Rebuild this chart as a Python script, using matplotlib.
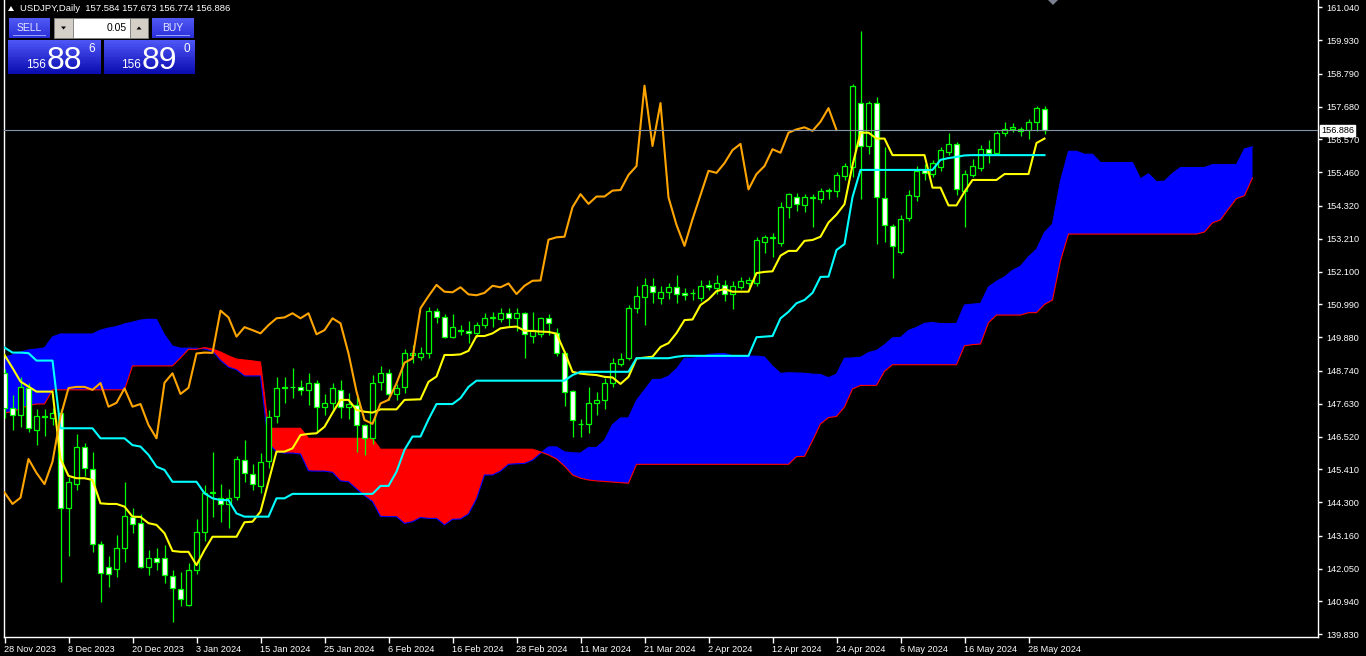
import matplotlib
matplotlib.use("Agg")
import matplotlib.pyplot as plt
from matplotlib.patches import Rectangle, Polygon
import numpy as np

plt.rcParams['font.family'] = ['Liberation Sans', 'DejaVu Sans']

W, H = 1366, 656

# ---------------- data ----------------
open_ = [148.67,147.49,147.25,148.15,146.75,147.21,147.14,147.32,144.11,144.91,
         146.17,145.43,142.90,142.12,142.04,142.75,143.81,143.60,142.11,142.41,
         142.41,141.81,141.36,140.82,142.00,143.29,144.60,144.44,144.24,144.49,
         145.73,145.25,144.85,145.70,147.20,148.15,148.18,148.20,148.10,148.33,
         147.51,147.64,148.10,147.51,147.60,146.91,146.46,148.38,148.68,147.96,
         148.19,149.28,149.20,149.33,150.78,150.57,149.90,150.10,150.09,150.01,
         150.29,150.52,150.50,150.69,150.52,150.69,149.92,149.99,150.52,150.03,
         149.33,148.06,146.93,146.93,147.64,147.76,148.32,148.97,149.17,150.86,
         151.25,151.61,151.22,151.40,151.57,151.37,151.37,151.20,151.64,151.54,
         151.64,151.34,151.59,151.73,151.72,153.11,153.25,153.06,154.28,154.64,
         154.35,154.58,154.56,154.84,154.83,155.35,155.63,157.81,156.35,157.80,
         154.58,153.64,152.77,153.90,154.67,155.53,155.40,155.65,156.13,156.42,
         154.84,155.37,155.60,156.24,156.12,156.78,156.91,156.91,156.89,157.17,
         157.59]
high = [148.80,147.93,148.55,148.32,147.45,147.44,147.48,147.45,145.16,146.60,
        146.30,146.01,143.00,142.48,143.19,144.98,144.10,143.90,142.68,142.74,
        142.85,142.00,141.94,142.25,143.73,144.88,146.00,144.91,144.75,145.86,
        146.40,145.59,145.98,147.42,148.52,148.52,148.84,148.43,148.68,148.43,
        147.96,148.34,148.43,147.98,147.87,146.95,148.60,148.91,148.80,148.30,
        149.47,149.62,149.55,150.89,150.88,150.65,150.66,150.28,150.44,150.40,
        150.70,150.74,150.86,150.86,150.86,150.75,150.74,150.58,150.65,150.20,
        149.40,148.10,147.13,148.20,148.03,148.50,149.17,149.34,150.97,151.60,
        151.88,151.88,151.60,151.70,151.99,151.53,151.50,151.82,151.82,151.99,
        151.82,151.77,151.93,151.93,153.27,153.35,153.40,154.46,154.77,154.75,
        154.72,154.72,154.93,154.92,155.48,155.78,158.45,160.24,157.88,158.00,
        156.30,153.70,154.00,154.85,155.68,155.75,155.87,156.32,156.80,156.50,
        155.55,155.90,156.38,156.56,156.86,157.17,157.12,157.00,157.25,157.71,
        157.70]
low = [147.15,146.74,146.85,146.68,146.23,146.54,146.91,141.61,142.49,144.70,
       145.20,142.62,140.93,141.43,141.78,142.27,143.27,142.07,141.84,142.00,
       141.57,140.26,140.79,140.80,141.87,143.00,143.80,143.64,143.43,144.37,
       144.99,144.71,144.61,145.46,146.98,147.65,147.82,147.93,147.58,146.64,
       147.25,147.36,147.15,147.11,146.01,145.90,146.27,148.10,147.76,147.76,
       147.99,149.01,149.11,149.18,150.36,149.84,149.85,149.95,149.68,149.90,
       150.20,150.24,150.40,150.24,150.10,149.19,149.70,149.90,149.95,149.25,
       147.56,146.49,146.50,146.63,147.25,147.45,148.20,148.90,149.10,150.69,
       150.29,151.03,151.00,151.16,151.03,151.14,151.14,151.10,151.47,151.34,
       151.12,150.82,151.50,151.57,151.62,152.74,152.58,152.98,153.90,154.16,
       154.10,153.60,154.41,154.55,154.63,155.20,155.31,154.55,156.08,153.03,
       153.10,151.87,152.70,153.80,154.48,155.20,155.30,155.50,156.05,154.70,
       153.60,155.30,155.50,155.79,156.05,156.70,156.82,156.70,156.60,156.87,
       156.76]
close = [147.49,147.25,148.19,146.80,147.21,147.17,147.31,144.11,144.98,146.17,
         145.46,142.90,141.90,141.87,142.75,143.83,143.56,142.11,142.41,142.28,
         141.84,141.40,141.02,142.00,143.29,144.61,144.63,144.24,144.45,145.76,
         145.29,144.91,145.67,147.19,148.16,148.20,148.20,148.10,148.33,147.53,
         147.66,148.15,147.53,147.62,146.91,146.46,148.34,148.66,147.96,148.17,
         149.33,149.36,149.35,150.78,150.55,149.90,150.22,150.12,150.01,150.29,
         150.52,150.55,150.69,150.52,150.69,149.98,150.12,150.52,150.35,149.33,
         148.04,147.08,146.95,147.64,147.76,148.32,149.02,149.16,150.86,151.27,
         151.65,151.42,151.40,151.57,151.33,151.30,151.38,151.62,151.57,151.70,
         151.34,151.62,151.79,151.80,153.18,153.26,153.28,154.28,154.72,154.39,
         154.64,154.64,154.84,154.86,155.37,155.67,158.39,156.35,157.80,154.61,
         153.68,152.97,153.87,154.69,155.51,155.44,155.77,156.21,156.42,154.88,
         155.40,155.67,156.24,156.12,156.80,156.91,156.98,156.86,157.17,157.63,
         156.89]
tenkan = [149.28,148.84,148.38,148.21,148.04,148.04,148.04,145.77,145.19,145.11,
          145.11,145.05,144.26,144.24,144.24,144.15,143.81,143.80,143.59,143.53,
          143.25,142.65,142.62,142.62,142.17,142.68,143.13,143.13,143.13,143.13,
          143.62,143.64,143.98,145.00,146.01,146.01,146.12,146.57,146.61,146.63,
          146.85,147.32,147.76,147.76,147.42,147.36,147.33,147.44,147.44,147.44,
          147.76,147.77,147.78,148.37,148.55,149.28,149.28,149.30,149.42,149.92,
          149.92,150.01,150.18,150.22,150.24,150.10,150.09,150.07,150.06,150.00,
          149.39,148.71,148.65,148.62,148.60,148.54,148.52,148.30,148.54,149.16,
          149.19,149.22,149.55,149.68,150.02,150.46,150.48,150.97,151.16,151.44,
          151.51,151.42,151.42,151.42,152.05,152.09,152.11,152.64,152.80,152.80,
          153.14,153.17,153.28,153.76,154.03,154.38,155.70,156.80,156.80,156.60,
          156.60,156.04,156.04,156.04,156.04,156.04,154.94,154.94,154.34,154.34,
          154.80,155.20,155.20,155.20,155.20,155.40,155.40,155.40,155.40,156.45,
          156.60]
kijun = [149.53,149.36,149.36,149.34,149.09,149.09,149.09,146.80,146.80,146.80,
         146.80,146.80,146.46,146.46,146.46,146.46,146.23,146.18,145.90,145.50,
         145.39,144.99,144.99,144.99,144.99,144.60,144.43,144.37,144.37,143.92,
         143.81,143.81,143.81,143.81,144.43,144.43,144.58,144.58,144.58,144.58,
         144.58,144.58,144.58,144.58,144.58,144.58,144.58,144.85,144.85,145.33,
         146.07,146.52,146.52,147.10,147.62,147.62,147.62,147.82,148.20,148.41,
         148.41,148.41,148.41,148.41,148.41,148.41,148.41,148.41,148.41,148.41,
         148.41,148.60,148.71,148.71,148.71,148.71,148.71,148.71,148.71,149.17,
         149.17,149.17,149.17,149.17,149.22,149.25,149.25,149.25,149.25,149.25,
         149.25,149.25,149.25,149.25,149.88,149.90,149.92,150.52,150.74,151.03,
         151.14,151.38,151.92,151.93,152.83,153.03,154.62,155.54,155.54,155.54,
         155.54,155.54,155.54,155.54,155.54,155.54,155.54,155.88,155.94,155.98,
         156.03,156.04,156.04,156.04,156.04,156.04,156.04,156.04,156.04,156.04,
         156.04]
senkou_a = [149.21,149.28,149.38,149.45,149.48,149.52,149.89,149.99,149.99,149.99,
            149.99,149.99,150.12,150.19,150.24,150.33,150.39,150.46,150.49,150.48,
            149.96,149.58,149.51,149.51,149.51,149.48,149.41,149.10,148.87,148.78,
            148.57,148.57,148.57,146.29,146.00,145.96,145.96,145.93,145.36,145.35,
            145.35,145.31,145.02,144.99,144.75,144.52,144.32,143.82,143.81,143.81,
            143.58,143.64,143.78,143.75,143.75,143.53,143.72,143.73,143.90,144.41,
            145.22,145.22,145.35,145.58,145.60,145.61,145.72,145.95,146.17,146.17,
            146.00,145.97,145.96,146.15,146.15,146.39,146.92,147.15,147.15,147.74,
            148.09,148.45,148.45,148.56,148.81,149.17,149.17,149.21,149.30,149.32,
            149.33,149.26,149.25,149.24,149.24,149.21,148.90,148.66,148.68,148.67,
            148.66,148.63,148.62,148.51,148.63,149.17,149.18,149.20,149.36,149.43,
            149.62,149.86,149.87,150.11,150.21,150.35,150.38,150.34,150.34,150.34,
            150.97,151.00,151.02,151.58,151.77,151.92,152.14,152.28,152.60,152.85,
            153.42,153.71,155.16,156.17,156.17,156.07,156.07,155.79,155.79,155.79,
            155.79,155.79,155.24,155.41,155.14,155.16,155.42,155.62,155.62,155.62,
            155.62,155.72,155.72,155.72,155.72,156.25,156.32]
senkou_b = [147.32,147.36,147.47,147.57,147.62,147.62,148.10,148.10,148.10,148.10,
            148.10,148.10,148.10,148.10,148.10,148.10,148.91,148.91,148.91,148.91,
            148.91,148.91,149.18,149.47,149.47,149.53,149.48,149.38,149.25,149.14,
            149.11,149.08,149.04,146.80,146.80,146.80,146.80,146.80,146.46,146.46,
            146.46,146.46,146.46,146.46,146.46,146.46,146.46,146.09,146.09,146.09,
            146.09,146.09,146.09,146.09,146.09,146.09,146.09,146.09,146.09,146.09,
            146.09,146.09,146.09,146.09,146.09,146.09,146.09,146.00,145.90,145.76,
            145.52,145.22,145.11,145.05,145.02,145.00,144.98,144.96,144.94,145.58,
            145.58,145.58,145.58,145.58,145.58,145.58,145.58,145.58,145.58,145.58,
            145.58,145.58,145.58,145.58,145.58,145.58,145.58,145.58,145.58,145.84,
            145.85,146.38,146.95,147.16,147.20,147.52,148.13,148.25,148.25,148.25,
            148.73,148.95,148.95,148.95,148.95,148.95,148.95,148.95,148.95,148.95,
            149.59,149.63,149.65,150.37,150.63,150.63,150.63,150.63,150.71,150.71,
            150.99,151.14,152.47,153.37,153.37,153.37,153.37,153.37,153.37,153.37,
            153.37,153.37,153.37,153.37,153.37,153.37,153.37,153.37,153.37,153.37,
            153.44,153.75,153.85,154.22,154.57,154.67,155.27]
chikou_shift = 26
date_labels = ['28 Nov 2023', '8 Dec 2023', '20 Dec 2023', '3 Jan 2024', '15 Jan 2024',
               '25 Jan 2024', '6 Feb 2024', '16 Feb 2024', '28 Feb 2024', '11 Mar 2024',
               '21 Mar 2024', '2 Apr 2024', '12 Apr 2024', '24 Apr 2024', '6 May 2024',
               '16 May 2024', '28 May 2024']
date_label_bars = [0, 8, 16, 24, 32, 40, 48, 56, 64, 72, 80, 88, 96, 104, 112, 120, 128]
price_ticks = [161.040, 159.930, 158.790, 157.680, 156.570, 155.460, 154.320, 153.210,
               152.100, 150.990, 149.880, 148.740, 147.630, 146.520, 145.410, 144.300,
               143.160, 142.050, 140.940, 139.830]
current_price = 156.886
header = 'USDJPY,Daily  157.584 157.673 156.774 156.886'
lot = '0.05'
bid_parts = ('156', '88', '6')
ask_parts = ('156', '89', '0')

# ---------------- figure ----------------
fig = plt.figure(figsize=(W / 100, H / 100), dpi=100, facecolor='black')
ax_l, ax_r, ax_b, ax_t = 3.5, 1318.0, 637.0, 0.0
ax = fig.add_axes([ax_l / W, 1 - ax_b / H, (ax_r - ax_l) / W, (ax_b - ax_t) / H])
ax.set_facecolor('black')

o = np.array(open_); h = np.array(high); l = np.array(low); c = np.array(close)
n = len(c)
x = np.arange(n)
sa = np.array(senkou_a); sb = np.array(senkou_b)
xj = np.arange(len(sa))

# cloud
ax.fill_between(xj, sa, sb, where=sa >= sb, interpolate=True, facecolor='#0000ff',
                linewidth=0, zorder=1)
ax.fill_between(xj, sa, sb, where=sa < sb, interpolate=True, facecolor='#ff0000',
                linewidth=0, zorder=1)
ax.plot(xj, sa, color='#0000ff', lw=0.8, zorder=2)
ax.plot(xj, sb, color='#ff0000', lw=0.8, zorder=2)

# candles
bull = c > o
ax.vlines(x, l, h, color='#00ff00', lw=0.9, zorder=3)
ax.bar(x, np.abs(c - o), bottom=np.minimum(o, c), width=0.6,
       color=np.where(bull, 'black', 'white'), edgecolor='#00ff00',
       linewidth=0.9, zorder=4)

# ichimoku lines
ax.plot(x, tenkan, color='#ffff00', lw=1.5, zorder=5)
ax.plot(x, kijun, color='#00ffff', lw=1.5, zorder=5)
ax.plot(x[:n - chikou_shift], c[chikou_shift:], color='#ffa500', lw=1.5, zorder=5)

# current price line
ax.axhline(current_price, color='#8392a6', lw=0.8, zorder=6)

# axes scaling (8 px per bar, 29.56 px per yen)
px_per_bar = 8.0
x0 = -(4.5 - ax_l) / px_per_bar
ax.set_xlim(x0, x0 + (ax_r - ax_l) / px_per_bar)
ppy = 29.56
y_bottom = 139.83 - (ax_b - 634.3) / ppy
ax.set_ylim(y_bottom, y_bottom + (ax_b - ax_t) / ppy)

for s in ['left', 'bottom', 'right']:
    ax.spines[s].set_color('white')
    ax.spines[s].set_linewidth(1.0)
ax.spines['top'].set_visible(False)

ax.yaxis.tick_right()
ax.set_yticks(price_ticks)
ax.set_yticklabels(['%.3f' % v for v in price_ticks])
ax.tick_params(axis='y', colors='white', length=3, width=1, pad=3, labelsize=6.6,
               labelcolor='white')
ax.set_xticks(date_label_bars)
ax.set_xticklabels(date_labels, ha='left')
ax.tick_params(axis='x', colors='white', length=4, width=1, pad=1.5, labelsize=6.6,
               labelcolor='white')

# current price label on the axis
fig.text(1321 / W, 1 - 130.5 / H, '%.3f' % current_price, color='black', fontsize=6.6,
         va='center', ha='left',
         bbox=dict(facecolor='white', edgecolor='white', boxstyle='square,pad=0.15'))

# ---------------- header and trading panel ----------------
def prect(x0p, y0p, x1p, y1p, **kw):
    r = Rectangle((x0p / W, 1 - y1p / H), (x1p - x0p) / W, (y1p - y0p) / H,
                  transform=fig.transFigure, **kw)
    fig.add_artist(r)
    return r

def grad(x0p, y0p, x1p, y1p, ctop, cbot, steps=24):
    ct = np.array(matplotlib.colors.to_rgb(ctop)); cb = np.array(matplotlib.colors.to_rgb(cbot))
    hh = (y1p - y0p) / steps
    for k in range(steps):
        t = k / (steps - 1)
        prect(x0p, y0p + k * hh, x1p, y0p + (k + 1) * hh + 0.3,
              facecolor=tuple(ct * (1 - t) + cb * t), edgecolor='none', lw=0)

def ptri(pts, color):
    fig.add_artist(Polygon([(px / W, 1 - py / H) for px, py in pts], closed=True,
                           transform=fig.transFigure, facecolor=color, edgecolor='none'))

def ptext(xp, yp, s, **kw):
    fig.text(xp / W, 1 - yp / H, s, **kw)

ptri([(8, 11), (14, 11), (11, 6)], 'white')
ptext(20, 8.5, header, color='white', fontsize=6.8, va='center', ha='left')

# chart shift marker
ptri([(1048, 0), (1058, 0), (1053, 5)], '#7a8090')

# SELL / BUY buttons
grad(9, 18, 50, 38, '#5058f4', '#2a30d8')
grad(152, 18, 194, 38, '#5058f4', '#2a30d8')
prect(13, 35.5, 46, 36.3, facecolor='#9aa0ff', edgecolor='none')
prect(156, 35.5, 190, 36.3, facecolor='#9aa0ff', edgecolor='none')
ptext(29.5, 28, 'SELL', color='#e8e8ff', fontsize=7.5, ha='center', va='center')
ptext(173, 28, 'BUY', color='#e8e8ff', fontsize=7.5, ha='center', va='center')
# lot spinner
prect(54, 18, 73, 38, facecolor='#d4d0c8', edgecolor='#808080', lw=0.6)
prect(73, 18, 130, 38, facecolor='white', edgecolor='#808080', lw=0.6)
prect(130, 18, 148, 38, facecolor='#d4d0c8', edgecolor='#808080', lw=0.6)
ptri([(61, 26.5), (66, 26.5), (63.5, 29.5)], 'black')
ptri([(136.5, 29.5), (141.5, 29.5), (139, 26.5)], 'black')
ptext(127, 28, lot, color='black', fontsize=7.5, ha='right', va='center')

# price boxes
grad(8, 40, 101, 74, '#4e56f6', '#0a0cb0')
grad(104, 40, 195, 74, '#4e56f6', '#0a0cb0')
ptext(26, 68, bid_parts[0], color='white', fontsize=8.5, ha='left', va='baseline')
ptext(47, 69, bid_parts[1], color='white', fontsize=23, ha='left', va='baseline')
ptext(88, 52, bid_parts[2], color='white', fontsize=8.5, ha='left', va='baseline')
ptext(121, 68, ask_parts[0], color='white', fontsize=8.5, ha='left', va='baseline')
ptext(142, 69, ask_parts[1], color='white', fontsize=23, ha='left', va='baseline')
ptext(183, 52, ask_parts[2], color='white', fontsize=8.5, ha='left', va='baseline')

fig.savefig('out.png', dpi=100, facecolor='black')
